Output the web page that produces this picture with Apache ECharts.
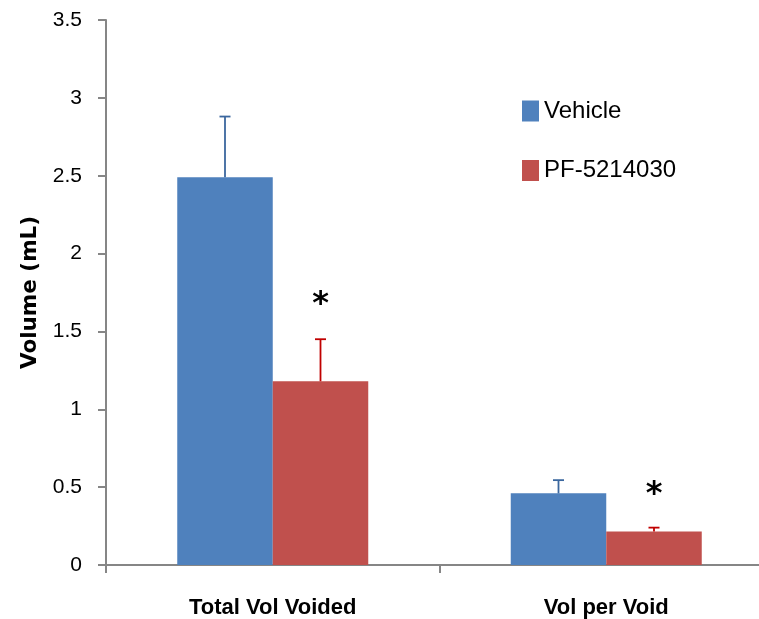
<!DOCTYPE html>
<html>
<head>
<meta charset="utf-8">
<script src="https://cdn.jsdelivr.net/npm/echarts@6/dist/echarts.min.js"></script>
<style>
html,body{margin:0;padding:0;background:#fff;}
#chart{width:759px;height:619px;}
</style>
</head>
<body>
<div id="chart"></div>
<script>
// ---- data ----
var categories = ['Total Vol Voided', 'Vol per Void'];
var seriesNames = ['Vehicle', 'PF-5214030'];
var vehicleMean = [2.49, 0.46];
var vehicleErr = [0.39, 0.085];
var pfMean = [1.18, 0.215];
var pfErr = [0.27, 0.025];
var sigLevel = [1.71, 0.49];   // position of significance asterisk above PF bars
var sigText = ['*', '*'];
var yMin = 0, yMax = 3.5, yStep = 0.5;

// ---- style ----
var BAR_W = 95.5;
var colors = ['#4f81bd', '#c0504d'];
var errColors = ['#3b679e', '#c00000'];
var axisColor = '#868686';

var chart = echarts.init(document.getElementById('chart'), null, {renderer: 'canvas'});

function errorSeries(idx, means, errs) {
  var data = means.map(function (m, i) { return [i, m, m + errs[i]]; });
  return {
    type: 'custom',
    name: seriesNames[idx] + ' err',
    data: data,
    z: 5,
    encode: {x: 0, y: [1, 2]},
    renderItem: function (params, api) {
      var off = (idx === 0 ? -1 : 1) * BAR_W / 2;
      var lo = api.coord([api.value(0), api.value(1)]);
      var hi = api.coord([api.value(0), api.value(2)]);
      var x = lo[0] + off;
      var capHalf = 5.5;
      var st = {stroke: errColors[idx], lineWidth: 1.8};
      return {
        type: 'group',
        children: [
          {type: 'line', shape: {x1: x, y1: lo[1], x2: x, y2: hi[1]}, style: st},
          {type: 'line', shape: {x1: x - capHalf, y1: hi[1], x2: x + capHalf, y2: hi[1]}, style: st}
        ]
      };
    }
  };
}

var option = {
  animation: false,
  backgroundColor: '#ffffff',
  grid: {left: 106, width: 667, top: 20, bottom: 54, containLabel: false, outerBoundsMode: 'none'},
  legend: {
    orient: 'vertical',
    left: 522,
    top: 99,
    padding: 0,
    itemWidth: 17,
    itemHeight: 21,
    itemGap: 35.5,
    icon: 'rect',
    data: seriesNames,
    textStyle: {fontFamily: 'Liberation Sans, Arial, sans-serif', fontSize: 24, color: '#000'}
  },
  xAxis: {
    type: 'category',
    data: categories,
    boundaryGap: true,
    axisLine: {lineStyle: {color: axisColor, width: 2}},
    axisTick: {show: true, length: 8, lineStyle: {color: axisColor, width: 2}},
    axisLabel: {
      margin: 32,
      fontFamily: 'Liberation Sans, Arial, sans-serif',
      fontWeight: 'bold',
      fontSize: 22,
      color: '#000'
    }
  },
  yAxis: {
    type: 'value',
    min: yMin,
    max: yMax,
    interval: yStep,
    name: 'Volume (mL)',
    nameLocation: 'middle',
    nameGap: 62,
    nameTextStyle: {fontFamily: 'DejaVu Sans, sans-serif', fontWeight: 'bold', fontSize: 21.5, color: '#000'},
    splitLine: {show: false},
    axisLine: {show: true, lineStyle: {color: axisColor, width: 2}},
    axisTick: {show: true, length: 8, lineStyle: {color: axisColor, width: 2}},
    axisLabel: {margin: 24, fontFamily: 'Liberation Sans, Arial, sans-serif', fontSize: 21, color: '#000'}
  },
  series: [
    {
      type: 'bar', name: seriesNames[0], data: vehicleMean,
      barWidth: BAR_W, barGap: '0%',
      itemStyle: {color: colors[0]}
    },
    {
      type: 'bar', name: seriesNames[1], data: pfMean,
      barWidth: BAR_W, barGap: '0%',
      itemStyle: {color: colors[1]}
    },
    errorSeries(0, vehicleMean, vehicleErr),
    errorSeries(1, pfMean, pfErr),
    {
      type: 'custom',
      name: 'sig',
      data: sigLevel.map(function (v, i) { return [i, v]; }),
      z: 6,
      renderItem: function (params, api) {
        var p = api.coord([api.value(0), api.value(1)]);
        return {
          type: 'text',
          x: p[0] + BAR_W / 2,
          y: p[1] + 6,
          style: {
            text: sigText[params.dataIndex],
            fontFamily: 'DejaVu Sans, sans-serif',
            fontWeight: 'bold',
            fontSize: 32,
            fill: '#000',
            align: 'center',
            verticalAlign: 'middle'
          }
        };
      }
    }
  ]
};
chart.setOption(option);
</script>
</body>
</html>
